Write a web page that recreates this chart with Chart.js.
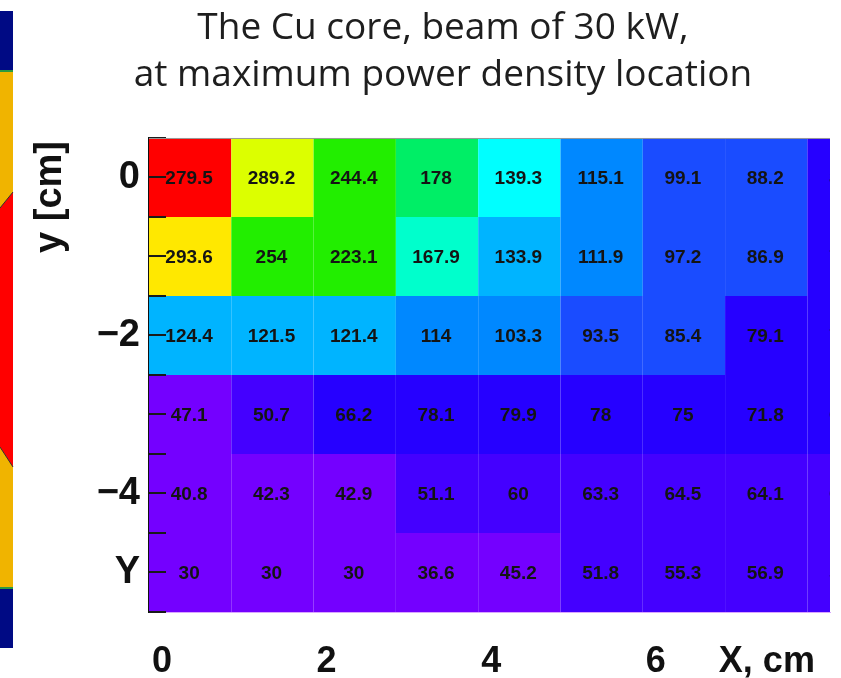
<!DOCTYPE html>
<html>
<head>
<meta charset="utf-8">
<title>Cu core power density</title>
<script src="https://cdn.jsdelivr.net/npm/chart.js@4.4.1/dist/chart.umd.min.js"></script>
<style>
    html, body { margin:0; padding:0; background:#ffffff; }
    #wrap { width:841px; height:678px; }
</style>
</head>
<body>
<div id="wrap"><canvas id="coreChart" width="841" height="678"></canvas></div>
<script>

// ======================================================
// Data
// ======================================================

const columns = [0, 1, 2, 3, 4, 5, 6, 7, 8];

const rowsY = [0, -1, -2, -3, -4, -5];

const row0 = [279.5, 289.2, 244.4, 178, 139.3, 115.1, 99.1, 88.2, 80.6];
const row1 = [293.6, 254, 223.1, 167.9, 133.9, 111.9, 97.2, 86.9, 78.4];
const row2 = [124.4, 121.5, 121.4, 114, 103.3, 93.5, 85.4, 79.1, 73.6];
const row3 = [47.1, 50.7, 66.2, 78.1, 79.9, 78, 75, 71.8, 67.4];
const row4 = [40.8, 42.3, 42.9, 51.1, 60, 63.3, 64.5, 64.1, 62.2];
const row5 = [30, 30, 30, 36.6, 45.2, 51.8, 55.3, 56.9, 57.4];

const cellValues = [row0, row1, row2, row3, row4, row5];

const xTickValues = [0, 2, 4, 6, 7.35];
const xTickLabels = ["0", "2", "4", "6", "X, cm"];

const yTickValues = [0, -2, -4, -5];
const yTickLabels = ["0", "\u22122", "\u22124", "Y"];

// ======================================================
// Colours of the cells (as printed, not monotonic)
// ======================================================

const RED = "#ff0000", YEL = "#ffe800", LIM = "#dcff00", GRN = "#22ee00",
      SPR = "#00ee66", AQU = "#00ffcc", CYA = "#00ffff", SKY = "#00b4ff",
      AZU = "#0088ff", BLU = "#1a4cff", IND = "#2600ff", VIO = "#4400ff",
      PUR = "#7400ff";

const shades = [
    [RED, LIM, GRN, SPR, CYA, AZU, BLU, BLU, IND],
    [YEL, GRN, GRN, AQU, SKY, AZU, BLU, BLU, IND],
    [SKY, SKY, SKY, AZU, AZU, BLU, BLU, IND, IND],
    [PUR, VIO, IND, IND, IND, IND, IND, IND, IND],
    [PUR, PUR, PUR, VIO, VIO, VIO, VIO, VIO, VIO],
    [PUR, PUR, PUR, PUR, PUR, VIO, VIO, VIO, VIO]
];

// ======================================================
// Datasets: one row of floating bars per y position
// ======================================================

const datasets = rowsY.map((y, r) => ({

    label: "y = " + y,

    data: columns.map(c => ({ x: c + 0.5, y: [y - 0.5, y + 0.5] })),

    backgroundColor: shades[r],

    borderWidth: 0,

    inflateAmount: 0,

    barPercentage: 1,

    categoryPercentage: 1,

    grouped: false

}));

// ======================================================
// Plugins
// ======================================================

const leftStrip = {

    id: "leftStrip",

    beforeDraw(chart) {

        const ctx = chart.ctx;

        ctx.save();

        ctx.fillStyle = "#000a84";
        ctx.fillRect(0, 11, 13, 60);
        ctx.fillRect(0, 588, 13, 60);

        ctx.fillStyle = "#f0b400";
        ctx.fillRect(0, 71, 13, 517);

        ctx.fillStyle = "#2a9a40";
        ctx.fillRect(0, 70, 13, 2);
        ctx.fillRect(0, 587, 13, 2);

        ctx.fillStyle = "#ff0000";
        ctx.beginPath();
        ctx.moveTo(0, 208);
        ctx.lineTo(13, 192);
        ctx.lineTo(13, 467);
        ctx.lineTo(0, 447);
        ctx.closePath();
        ctx.fill();

        ctx.strokeStyle = "#333";
        ctx.lineWidth = 1;
        ctx.beginPath();
        ctx.moveTo(0, 208);
        ctx.lineTo(13, 192);
        ctx.moveTo(0, 447);
        ctx.lineTo(13, 467);
        ctx.stroke();

        ctx.restore();

    }

};

const cellText = {

    id: "cellText",

    afterDatasetsDraw(chart) {

        const ctx = chart.ctx;
        const area = chart.chartArea;

        ctx.save();

        ctx.beginPath();
        ctx.rect(area.left, area.top, area.right - area.left, area.bottom - area.top);
        ctx.clip();

        ctx.font = "bold 19px 'Liberation Sans', Arial, sans-serif";
        ctx.fillStyle = "#141414";
        ctx.textAlign = "center";
        ctx.textBaseline = "middle";

        cellValues.forEach((vals, r) => {

            const meta = chart.getDatasetMeta(r);

            meta.data.forEach((bar, i) => {

                ctx.fillText(String(vals[i]), bar.x - 1, (bar.y + bar.base) / 2 + 1);

            });

        });

        ctx.restore();

        // inner tick marks on the y axis
        const ys = chart.scales.y;

        ctx.save();
        ctx.strokeStyle = "#1a1a1a";
        ctx.lineWidth = 2;
        ctx.beginPath();

        ys.ticks.forEach(t => {

            const py = Math.round(ys.getPixelForValue(t.value));

            ctx.moveTo(area.left, py);
            ctx.lineTo(area.left + 17, py);

        });

        ctx.stroke();

        // thin frame on top
        ctx.strokeStyle = "#9a9a9a";
        ctx.lineWidth = 1;
        ctx.beginPath();
        ctx.moveTo(area.left, area.top + 0.5);
        ctx.lineTo(area.right, area.top + 0.5);
        ctx.stroke();

        ctx.restore();

        // y axis title
        ctx.save();
        ctx.translate(51, 197);
        ctx.rotate(-Math.PI / 2);
        ctx.font = "bold 38px 'Liberation Sans', Arial, sans-serif";
        ctx.fillStyle = "#111";
        ctx.textAlign = "center";
        ctx.textBaseline = "middle";
        ctx.fillText("y [cm]", 0, 0);
        ctx.restore();

    }

};

// ======================================================
// Chart
// ======================================================

new Chart(

    document.getElementById("coreChart"),

    {

        type: "bar",

        data: { datasets: datasets },

        plugins: [leftStrip, cellText],

        options: {

            responsive: false,

            animation: false,

            layout: {

                padding: { left: 56, right: 11, top: 0, bottom: 0 }

            },

            plugins: {

                legend: { display: false },

                tooltip: { enabled: false },

                title: {

                    display: true,

                    text: [

                        "The Cu core, beam of 30 kW,",

                        "at maximum power density location"

                    ],

                    color: "#1e1e1e",

                    font: { family: "'Open Sans'", size: 37, weight: "normal", lineHeight: 1.27 },

                    padding: { top: 5, bottom: 39 }

                }

            },

            scales: {

                x: {

                    type: "linear",

                    min: 0,

                    max: 8.275,

                    offset: false,

                    afterBuildTicks: scale => {

                        scale.ticks = xTickValues.map(v => ({ value: v }));

                    },

                    afterFit: scale => { scale.height = 66; },

                    grid: { display: true, offset: false, drawOnChartArea: false, drawTicks: false },

                    border: { display: true, color: "#d9a6ff", width: 1 },

                    ticks: {

                        autoSkip: false,

                        maxRotation: 0,

                        padding: 28,

                        labelOffset: 13,

                        color: "#111",

                        font: { family: "'Liberation Sans', Arial", size: 36, weight: "bold" },

                        callback: value => {

                            const k = xTickValues.indexOf(value);

                            return k >= 0 ? xTickLabels[k] : "";

                        }

                    }

                },

                y: {

                    type: "linear",

                    min: -5.5,

                    max: 0.5,

                    afterBuildTicks: scale => {

                        const t = [];

                        for (let v = 0.5; v >= -5.5; v -= 0.5) t.push({ value: v });

                        scale.ticks = t;

                    },

                    afterFit: scale => { scale.width = 93; },

                    grid: { display: true, drawOnChartArea: false, drawTicks: false },

                    border: { display: true, color: "#111", width: 2 },

                    ticks: {

                        autoSkip: false,

                        padding: 9,

                        color: "#111",

                        font: { family: "'Liberation Sans', Arial", size: 38, weight: "bold" },

                        callback: value => {

                            const k = yTickValues.indexOf(value);

                            return k >= 0 ? yTickLabels[k] : "";

                        }

                    }

                }

            }

        }

    }

);

</script>
</body>
</html>
